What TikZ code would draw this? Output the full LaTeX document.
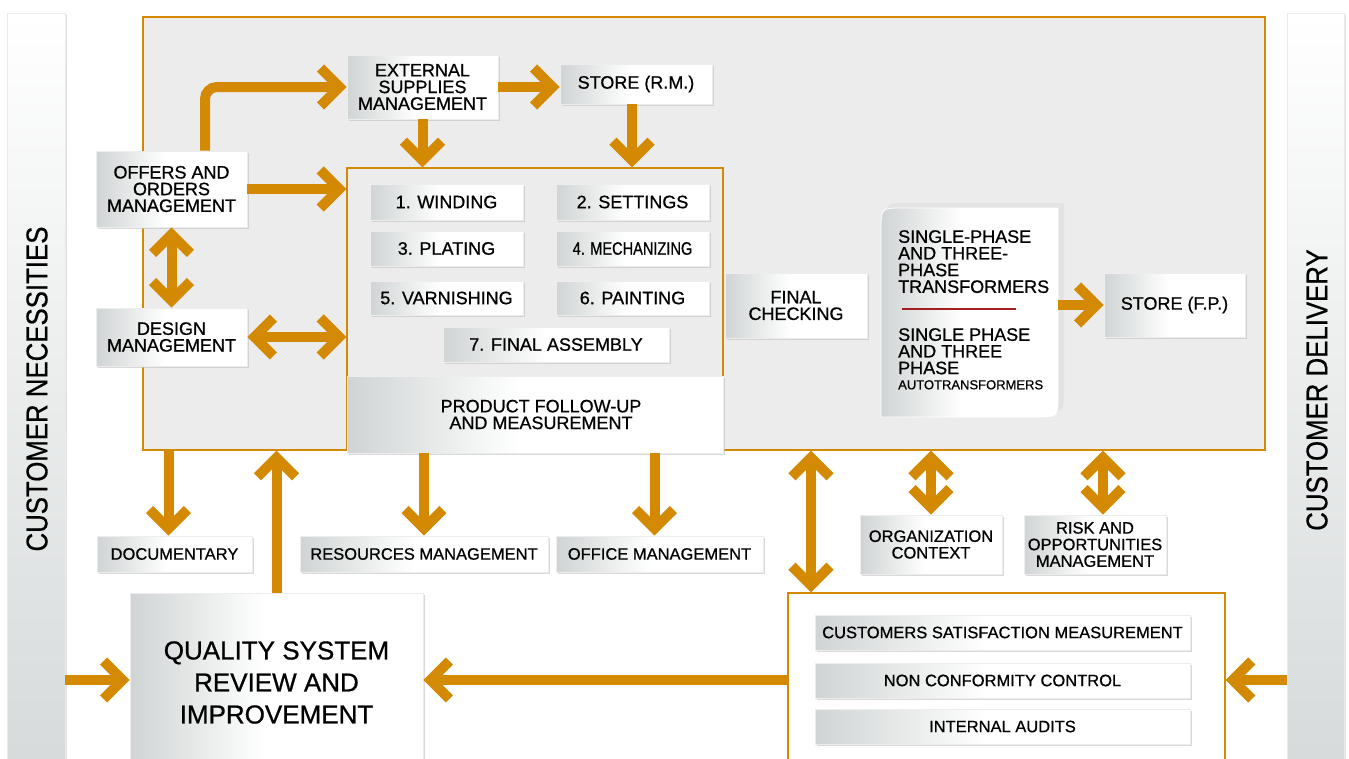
\documentclass[tikz,border=0pt]{standalone}
\usepackage{fontspec}
\usepackage{graphicx}
\setmainfont{Liberation Sans}[FakeBold=0.7]
\newfontfamily\condfont[FakeStretch=0.86,FakeBold=0.5]{Liberation Sans}
\usetikzlibrary{arrows.meta,shadows,calc}
\definecolor{orng}{RGB}{212,137,2}
\definecolor{bg}{RGB}{236,236,236}
\definecolor{boxg}{RGB}{208,212,212}
\definecolor{barg}{RGB}{214,218,218}
\definecolor{redl}{RGB}{165,30,30}
\pgfdeclarehorizontalshading{boxshade}{100bp}{color(0bp)=(boxg); color(25bp)=(boxg); color(48bp)=(white); color(100bp)=(white)}
\newcommand\fsA{\fontsize{18}{16.7}\selectfont}
\newcommand\fsB{\fontsize{16.5}{16.6}\selectfont}
\newcommand\nd[7]{\node[#1,minimum width={(#5-#3)*1pt},minimum height={(#6-#4)*1pt}] (#2) at ({(#3+#5)/2},{(#4+#6)/2}) {#7};}
\tikzset{
  box/.style={shade, shading=boxshade, draw=black!7, line width=0.8pt,
    drop shadow={shadow xshift=1.8pt, shadow yshift=-1.8pt, fill=black!25, opacity=0.6},
    inner sep=0pt, align=center, font=\fsA, text=black},
  boxb/.style={box, font=\fsB},
  frame/.style={draw=orng, line width=1.4pt, inner sep=0pt},
  bar/.style={shade, top color=white, bottom color=barg, draw=black!8, line width=0.8pt,
    drop shadow={shadow xshift=1.8pt, shadow yshift=-1.8pt, fill=black!20, opacity=0.6}, inner sep=0pt},
  barlabel/.style={rotate=90, inner sep=0pt, font=\condfont\fontsize{30}{30}\selectfont},
  arr/.style={draw=orng, line width=10pt, -{Straight Barb[length=19pt,width=38pt]}},
  darr/.style={draw=orng, line width=10pt, {Straight Barb[length=19pt,width=38pt]}-{Straight Barb[length=19pt,width=38pt]}},
}
\begin{document}
\begin{tikzpicture}[x=1pt,y=-1pt]
\useasboundingbox (0,0) rectangle (1349,758);
% side bars
\nd{bar}{lbar}{7}{13}{65}{772}{}
\nd{bar}{rbar}{1287}{13}{1344}{772}{}
\node[barlabel] (lbl) at (37,389) {CUSTOMER NECESSITIES};
\node[barlabel] (rbl) at (1317,390) {CUSTOMER DELIVERY};
% frames
\nd{frame, fill=bg}{mainrect}{143}{17}{1265}{450}{}
\nd{frame, fill=bg}{procrect}{347}{168}{723}{450}{}
\nd{frame, fill=white}{evalbox}{788}{593}{1225}{772}{}
% transformers box
\node[inner sep=0pt, minimum width=177pt, minimum height=209pt] (trans) at (969.5,312.5) {};
\fill[black!11] (886,225) .. controls (886,203) .. (908,203) -- (1064,203) -- (1064,390) .. controls (1064,412) .. (1042,412) -- (886,412) -- cycle;
\path[shade, shading=boxshade, draw=white, line width=0.8pt] (881,230) .. controls (881,208) .. (903,208) -- (1058,208) -- (1058,395) .. controls (1058,417) .. (1036,417) -- (881,417) -- cycle;
\node[anchor=north west, inner sep=0pt, align=left, font=\fsA] (tt1) at (898,230) {SINGLE-PHASE\\AND THREE-\\PHASE\\TRANSFORMERS};
\draw[redl, line width=1.2pt] (902,309) -- (1016,309);
\node[anchor=north west, inner sep=0pt, align=left, font=\fsA] (tt2) at (898,328) {SINGLE PHASE\\AND THREE\\PHASE};
\node[anchor=north west, inner sep=0pt, font=\fontsize{13}{15}\selectfont] (tt3) at (898,380) {AUTOTRANSFORMERS};
% boxes
\nd{box}{ext}{347}{55}{498}{119}{EXTERNAL\\SUPPLIES\\MANAGEMENT}
\nd{box}{storerm}{560}{64}{712}{104}{STORE (R.M.)}
\nd{box}{offers}{96}{151}{247}{227}{OFFERS AND\\ORDERS\\MANAGEMENT}
\nd{box}{design}{96}{308}{247}{366}{DESIGN\\MANAGEMENT}
\nd{box}{w1}{370}{184}{523}{220}{1. WINDING}
\nd{box}{w2}{556}{184}{709}{220}{2. SETTINGS}
\nd{box}{w3}{370}{231}{523}{266}{3. PLATING}
\nd{box}{w4}{556}{231}{709}{266}{\scalebox{0.81}[1]{4. MECHANIZING}}
\nd{box}{w5}{370}{281}{523}{315}{5. VARNISHING}
\nd{box}{w6}{556}{281}{709}{315}{6. PAINTING}
\nd{box}{w7}{443}{327}{669}{362}{7. FINAL ASSEMBLY}
\nd{box}{product}{347}{376}{723}{453}{\hspace*{12pt}PRODUCT FOLLOW-UP\\\hspace*{12pt}AND MEASUREMENT}
\nd{box}{finalcheck}{725}{273}{867}{338}{FINAL\\CHECKING}
\nd{box}{storefp}{1104}{273}{1245}{337}{STORE (F.P.)}
\nd{boxb}{doc}{97}{536}{252}{572}{DOCUMENTARY}
\nd{boxb}{res}{300}{536}{548}{572}{RESOURCES MANAGEMENT}
\nd{boxb}{office}{556}{536}{763}{572}{OFFICE MANAGEMENT}
\nd{boxb}{org}{860}{515}{1002}{574}{ORGANIZATION\\CONTEXT}
\nd{boxb}{risk}{1024}{515}{1166}{574}{RISK AND\\OPPORTUNITIES\\MANAGEMENT}
\nd{boxb}{csm}{815}{615}{1190}{650}{CUSTOMERS SATISFACTION MEASUREMENT}
\nd{boxb}{ncc}{815}{663}{1190}{698}{NON CONFORMITY CONTROL}
\nd{boxb}{ia}{815}{709}{1190}{744}{INTERNAL AUDITS}
\nd{box, font=\fontsize{26}{32}\selectfont}{quality}{130}{593}{423}{772}{QUALITY SYSTEM\\REVIEW AND\\IMPROVEMENT}
% arrows
\coordinate (yA) at (0,680);
\coordinate (xA) at (811,0);
\draw[arr, rounded corners=12pt] ([xshift=33.5pt]offers.north) |- (ext.west);
\draw[arr] (ext.east) -- (ext.east -| storerm.west);
\draw[arr] (ext.south) -- (ext.south |- procrect.north);
\draw[arr] ([xshift=-4pt]storerm.south) -- ([xshift=-4pt]storerm.south |- procrect.north);
\draw[arr] (offers.east) -- (offers.east -| procrect.west);
\draw[darr] (offers.south) -- (design.north);
\draw[darr] (design.east) -- (design.east -| procrect.west);
\draw[arr] (trans.east |- storefp.west) -- (storefp.west);
\draw[arr] ([xshift=-6pt]doc.north |- mainrect.south) -- ([xshift=-6pt]doc.north);
\draw[arr] (quality.north) -- (quality.north |- mainrect.south);
\draw[arr] (res.north |- product.south) -- (res.north);
\draw[arr] ([xshift=-5pt]office.north |- product.south) -- ([xshift=-5pt]office.north);
\draw[darr] (xA |- mainrect.south) -- (xA |- evalbox.north);
\draw[darr] (org.north |- mainrect.south) -- (org.north);
\draw[darr] ([xshift=8pt]risk.north |- mainrect.south) -- ([xshift=8pt]risk.north);
\draw[arr] (lbar.east |- yA) -- (quality.west |- yA);
\draw[arr] (evalbox.west |- yA) -- (quality.east |- yA);
\draw[arr] (rbar.west |- yA) -- (evalbox.east |- yA);
\end{tikzpicture}
\end{document}
